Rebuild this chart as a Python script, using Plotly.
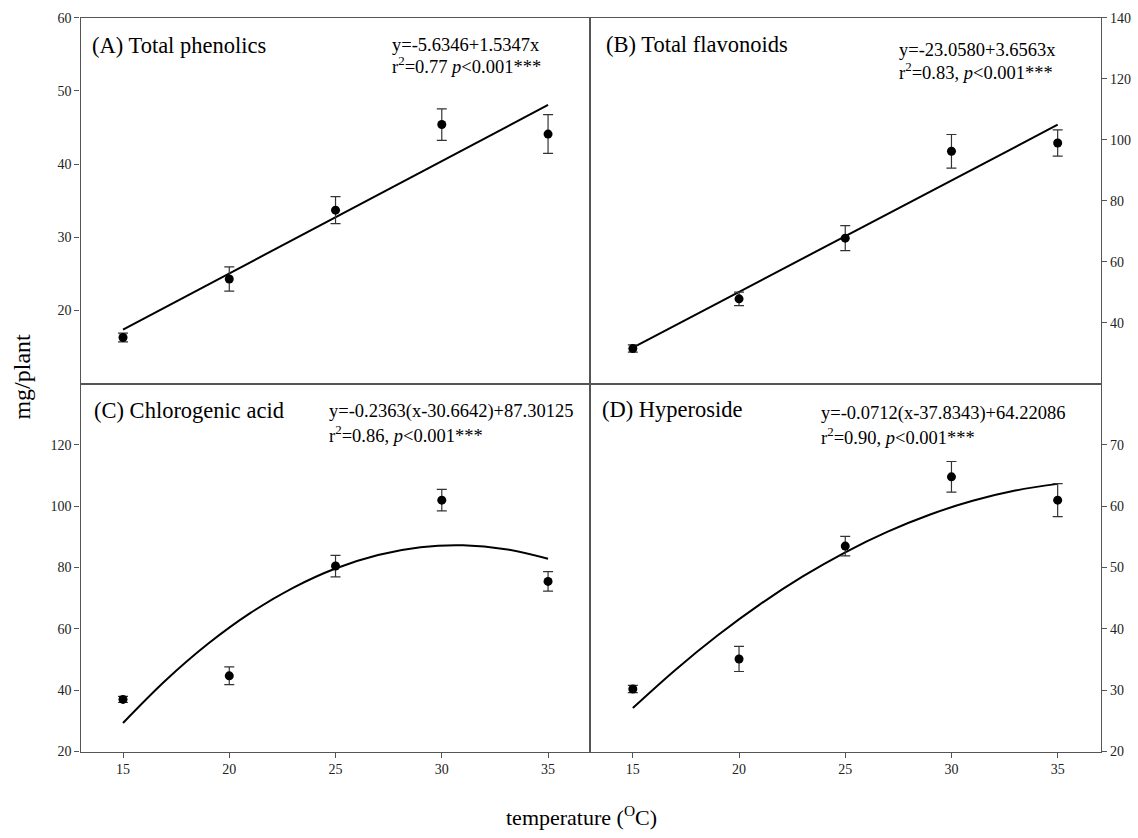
import plotly.graph_objects as go

W, H = 1138, 838

temps = [15, 20, 25, 30, 35]

# Panel A: Total phenolics
phen = [16.3, 24.3, 33.7, 45.4, 44.1]
phen_err = [0.6, 1.65, 1.85, 2.15, 2.65]
phen_fit_x = [15, 35]
phen_fit_y = [17.39, 48.08]

# Panel B: Total flavonoids
flav = [31.5, 47.8, 67.7, 96.2, 98.9]
flav_err = [1.2, 2.2, 4.1, 5.5, 4.3]
flav_fit_x = [15, 35]
flav_fit_y = [31.79, 104.91]

# Panel C: Chlorogenic acid
chlo = [37.0, 44.7, 80.5, 102.0, 75.5]
chlo_err = [1.0, 2.9, 3.5, 3.5, 3.2]
curve_x = [15, 17, 19, 21, 23, 25, 27, 29, 31, 33, 35]
chlo_fit_y = [29.32, 43.18, 55.15, 65.23, 73.42, 79.72, 84.13, 86.65, 87.27, 86.01, 82.86]

# Panel D: Hyperoside
hyp = [30.2, 35.1, 53.5, 64.8, 61.0]
hyp_err = [0.6, 2.05, 1.6, 2.5, 2.7]
hyp_fit_y = [27.10, 33.31, 38.96, 44.04, 48.55, 52.49, 55.86, 58.66, 60.89, 62.56, 63.65]

FONT = "Liberation Serif"
LC = "#555555"

def px(x):
    return x / W

def py(y):
    yc = (y - 6.3) / 0.9823
    return 1 - yc / H

xl = [px(80.5), px(589.5)]
xr = [px(589.5), px(1101)]
yt = [py(383), py(17)]
yb = [py(751), py(383)]

fig = go.Figure()

def add_panel(i, y, err, fx, fy, spline=False):
    xa = "x" if i == 1 else f"x{i}"
    ya = "y" if i == 1 else f"y{i}"
    fig.add_trace(go.Scatter(
        x=fx, y=fy, mode="lines", xaxis=xa, yaxis=ya,
        line=dict(color="black", width=2, shape="spline" if spline else "linear"),
        showlegend=False, hoverinfo="skip"))
    fig.add_trace(go.Scatter(
        x=temps, y=y, mode="markers", xaxis=xa, yaxis=ya,
        marker=dict(color="black", size=9),
        error_y=dict(type="data", array=err, visible=True, color="#333333", thickness=1.2, width=5),
        showlegend=False))

add_panel(1, phen, phen_err, phen_fit_x, phen_fit_y)
add_panel(2, flav, flav_err, flav_fit_x, flav_fit_y)
add_panel(3, chlo, chlo_err, curve_x, chlo_fit_y, spline=True)
add_panel(4, hyp, hyp_err, curve_x, hyp_fit_y, spline=True)

tickfont = dict(family=FONT, size=14, color="#222222")

def xaxis(domain, anchor, rng, labels):
    d = dict(domain=domain, anchor=anchor, range=rng, showgrid=False, zeroline=False,
             showline=True, mirror=True, linecolor=LC, linewidth=1.2,
             tickfont=tickfont)
    if labels:
        d.update(tickvals=temps, ticks="outside", ticklen=5, tickcolor=LC, showticklabels=True)
    else:
        d.update(ticks="", showticklabels=False)
    return d

def yaxis(domain, anchor, rng, tv, side):
    return dict(domain=domain, anchor=anchor, range=rng, tickvals=tv, side=side,
                showgrid=False, zeroline=False, showline=True, mirror=True,
                linecolor=LC, linewidth=1.2, ticks="outside", ticklen=5, tickcolor=LC,
                tickfont=tickfont)

fig.update_layout(
    width=W, height=H,
    margin=dict(l=0, r=0, t=0, b=0),
    paper_bgcolor="white", plot_bgcolor="white",
    xaxis=xaxis(xl, "y", [13.0, 36.95], False),
    yaxis=yaxis(yt, "x", [10, 60], [20, 30, 40, 50, 60], "left"),
    xaxis2=xaxis(xr, "y2", [12.96, 37.04], False),
    yaxis2=yaxis(yt, "x2", [20, 140], [40, 60, 80, 100, 120, 140], "right"),
    xaxis3=xaxis(xl, "y3", [13.0, 36.95], True),
    yaxis3=yaxis(yb, "x3", [20, 140], [20, 40, 60, 80, 100, 120], "left"),
    xaxis4=xaxis(xr, "y4", [12.96, 37.04], True),
    yaxis4=yaxis(yb, "x4", [20, 80], [20, 30, 40, 50, 60, 70], "right"),
)

def note(text, x, y, size, anchor="left", angle=0):
    fig.add_annotation(text=text, x=px(x), y=py(y), xref="paper", yref="paper",
                       xanchor=anchor, yanchor="middle", showarrow=False, textangle=angle,
                       font=dict(family=FONT, size=size, color="black"))

# panel titles
note("(A) Total phenolics", 90, 45, 22.5)
note("(B) Total flavonoids", 604, 44, 22.5)
note("(C) Chlorogenic acid", 92, 410, 22.5)
note("(D) Hyperoside", 600, 409, 22.5)

# equations
note("y=-5.6346+1.5347x", 390, 44, 18.5)
note("r<sup>2</sup>=0.77 <i>p</i><0.001***", 390, 64, 18.5)
note("y=-23.0580+3.6563x", 897, 49, 18.5)
note("r<sup>2</sup>=0.83, <i>p</i><0.001***", 897, 70, 18.5)
note("y=-0.2363(x-30.6642)+87.30125", 327, 411, 18.5)
note("r<sup>2</sup>=0.86, <i>p</i><0.001***", 327, 433, 18.5)
note("y=-0.0712(x-37.8343)+64.22086", 819, 413, 18.5)
note("r<sup>2</sup>=0.90, <i>p</i><0.001***", 819, 435, 18.5)

# axis titles
note("mg/plant", 22, 376, 24, anchor="center", angle=-90)
note("temperature (<sup>O</sup>C)", 581, 815, 22, anchor="center")

fig.write_html("out.html", config={"displayModeBar": False},
               post_script="document.body.style.margin='0';document.body.style.overflow='hidden';")
